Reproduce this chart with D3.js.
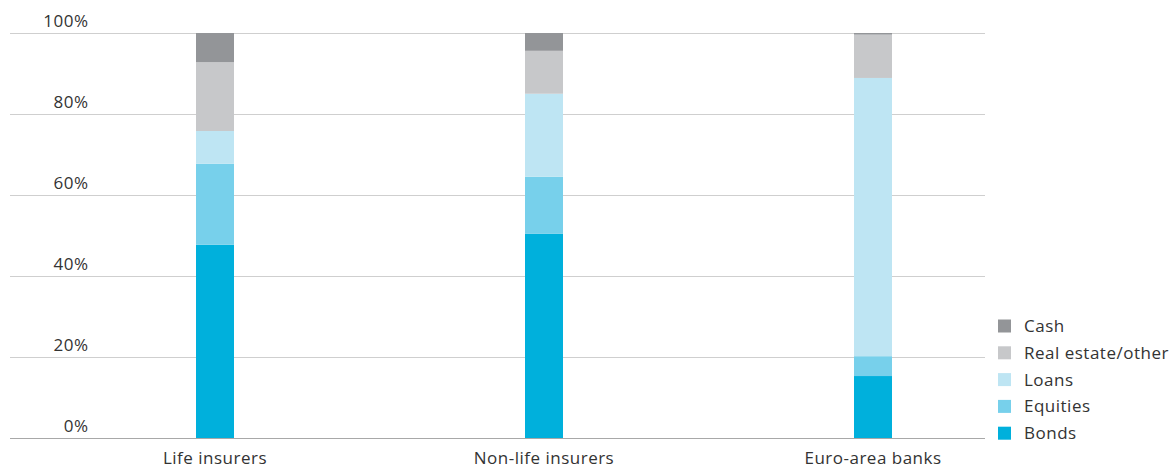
<!DOCTYPE html>
<html>
<head>
<meta charset="utf-8">
<script src="https://cdn.jsdelivr.net/npm/d3@7"></script>
<style>
  html, body { margin: 0; padding: 0; background: #fff; }
  svg text { font-family: "Open Sans", Lato, sans-serif; fill: #333; letter-spacing: 0.5px; }
</style>
</head>
<body>
<svg id="chart" width="1171" height="468"></svg>
<script>
const categories = ["Life insurers", "Non-life insurers", "Euro-area banks"];
const seriesNames = ["Bonds", "Equities", "Loans", "Real estate/other", "Cash"];
const bonds       = [47.7, 50.4, 15.3];
const equities    = [20.0, 14.1, 4.9];
const loans       = [8.1, 20.5, 68.7];
const realEstate  = [17.0, 10.6, 10.7];
const cash        = [7.2, 4.4, 0.4];
const yTicks = [0, 20, 40, 60, 80, 100];
const colors = ["#00b0dc", "#77d0eb", "#bee5f3", "#c7c8ca", "#939598"];

const rows = categories.map((c, i) => ({
  cat: c,
  "Bonds": bonds[i], "Equities": equities[i], "Loans": loans[i],
  "Real estate/other": realEstate[i], "Cash": cash[i]
}));

const svg = d3.select("#chart");
const y = d3.scaleLinear().domain([0, 100]).range([438, 33]);
const x = d3.scalePoint().domain(categories).range([50.5, 1037.5]).padding(0.5);
const barW = 38;
const gridX0 = 10, gridX1 = 985;
const fs = 17;

// gridlines
svg.append("g").selectAll("line").data(yTicks).join("line")
  .attr("x1", gridX0).attr("x2", gridX1)
  .attr("y1", d => Math.round(y(d)) + 0.5).attr("y2", d => Math.round(y(d)) + 0.5)
  .attr("stroke", d => d === 0 ? "#a8a8a8" : "#cfcfcf").attr("stroke-width", 1);

// y labels
svg.append("g").selectAll("text").data(yTicks).join("text")
  .attr("x", 88.5).attr("y", d => y(d) - 6.5)
  .attr("text-anchor", "end").attr("font-size", fs)
  .text(d => d + "%");

// stacked bars
const stack = d3.stack().keys(seriesNames)(rows);
svg.append("g").selectAll("g").data(stack).join("g")
  .attr("fill", (d, i) => colors[i])
  .selectAll("rect").data(d => d).join("rect")
  .attr("x", d => x(d.data.cat) - barW / 2)
  .attr("width", barW)
  .attr("y", d => y(d[1]))
  .attr("height", d => y(d[0]) - y(d[1]));

// x labels
svg.append("g").selectAll("text").data(categories).join("text")
  .attr("x", d => x(d)).attr("y", 464)
  .attr("text-anchor", "middle").attr("font-size", fs)
  .text(d => d);

// legend (top to bottom: Cash ... Bonds)
const legendItems = seriesNames.map((n, i) => ({ n, c: colors[i] })).reverse();
const lg = svg.append("g");
const leg = lg.selectAll("g").data(legendItems).join("g")
  .attr("transform", (d, i) => `translate(998, ${326 + i * 26.8})`);
leg.append("rect").attr("x", 0).attr("y", -6.5).attr("width", 13).attr("height", 13)
  .attr("fill", d => d.c);
leg.append("text").attr("x", 26).attr("y", 6)
  .attr("font-size", fs).text(d => d.n);
</script>
</body>
</html>
